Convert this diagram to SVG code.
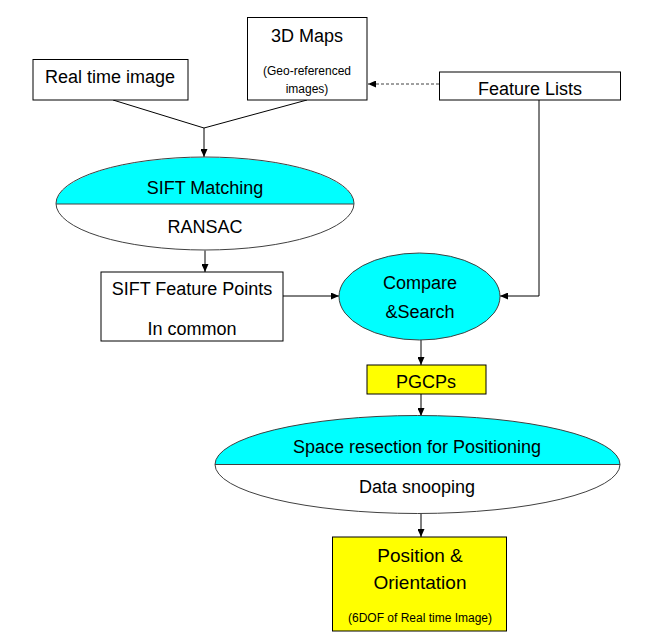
<svg xmlns="http://www.w3.org/2000/svg" width="657" height="641" viewBox="0 0 657 641">
<style>
text{font-family:"Liberation Sans",Arial,sans-serif;fill:#000;text-anchor:middle}
.t{font-size:18px}
.s{font-size:12px}
.box{fill:#fff;stroke:#000;stroke-width:1}
.yel{fill:#ffff00;stroke:#000;stroke-width:1}
.cy{fill:#00ffff;stroke:none}
.wh{fill:#fff;stroke:none}
.ol{fill:none;stroke:#404040;stroke-width:1}
.c{fill:none;stroke:#000;stroke-width:1}
.d{fill:none;stroke:#404040;stroke-width:1;stroke-dasharray:3 2}
</style>
<defs>
<marker id="ah" markerUnits="userSpaceOnUse" markerWidth="8" markerHeight="7" refX="8" refY="3.5" orient="auto">
<path d="M0,0 L8,3.5 L0,7 z" fill="#000"/>
</marker>
</defs>
<rect width="657" height="641" fill="#fff"/>
<g id="connectors">
<polyline class="c" points="113,100 204,128 307,100"/>
<line class="c" x1="204" y1="128" x2="204" y2="157" marker-end="url(#ah)"/>
<line class="d" x1="439" y1="84" x2="368" y2="84" marker-end="url(#ah)"/>
<line class="c" x1="205" y1="250" x2="205" y2="272" marker-end="url(#ah)"/>
<line class="c" x1="283" y1="296" x2="339" y2="296" marker-end="url(#ah)"/>
<polyline class="c" points="539,100 539,296 500,296" marker-end="url(#ah)"/>
<line class="c" x1="421" y1="340" x2="421" y2="365" marker-end="url(#ah)"/>
<line class="c" x1="421" y1="394" x2="421" y2="416" marker-end="url(#ah)"/>
<line class="c" x1="421" y1="513" x2="421" y2="537" marker-end="url(#ah)"/>
</g>
<g id="realtime">
<rect class="box" x="33" y="59.5" width="155" height="40.5"/>
<text class="t" x="110" y="83">Real time image</text>
</g>
<g id="maps3d">
<rect class="box" x="247.5" y="17.5" width="119.5" height="82.5"/>
<text class="t" x="307" y="42">3D Maps</text>
<text class="s" x="307" y="75">(Geo-referenced</text>
<text class="s" x="307" y="93">images)</text>
</g>
<g id="featurelists">
<rect class="box" x="439.5" y="72" width="181" height="28"/>
<text class="t" x="530" y="95">Feature Lists</text>
</g>
<g id="siftmatching">
<path class="cy" d="M56,204 A149,46.5 0 0 1 354,204 Z"/>
<path class="wh" d="M56,204 A149,46.5 0 0 0 354,204 Z"/>
<ellipse class="ol" cx="205" cy="203.5" rx="149" ry="46.5"/>
<line class="ol" x1="56" y1="204" x2="354" y2="204"/>
<text class="t" x="205" y="194">SIFT Matching</text>
<text class="t" x="205" y="233">RANSAC</text>
</g>
<g id="siftpoints">
<rect class="box" x="101" y="272" width="182" height="69"/>
<text class="t" x="192" y="295">SIFT Feature Points</text>
<text class="t" x="192" y="335">In common</text>
</g>
<g id="compare">
<ellipse cx="419.5" cy="296.5" rx="80.5" ry="43.5" fill="#00ffff" stroke="#404040" stroke-width="1"/>
<text class="t" x="420" y="289">Compare</text>
<text class="t" x="420" y="318">&amp;Search</text>
</g>
<g id="pgcps">
<rect class="yel" x="367" y="365" width="119" height="29"/>
<text class="t" x="426" y="388">PGCPs</text>
</g>
<g id="spaceresection">
<path class="cy" d="M215,464.5 A202.5,49 0 0 1 620,464.5 Z"/>
<path class="wh" d="M215,464.5 A202.5,49 0 0 0 620,464.5 Z"/>
<ellipse class="ol" cx="417.5" cy="464.5" rx="202.5" ry="49"/>
<line class="ol" x1="215" y1="464.5" x2="620" y2="464.5"/>
<text class="t" x="417" y="453">Space resection for Positioning</text>
<text class="t" x="417" y="493">Data snooping</text>
</g>
<g id="position">
<rect class="yel" x="332.5" y="537" width="174" height="94"/>
<text class="t" x="420" y="562" style="font-size:19px">Position &amp;</text>
<text class="t" x="420" y="589" style="font-size:19px">Orientation</text>
<text class="s" x="420" y="622">(6DOF of Real time Image)</text>
</g>
</svg>
